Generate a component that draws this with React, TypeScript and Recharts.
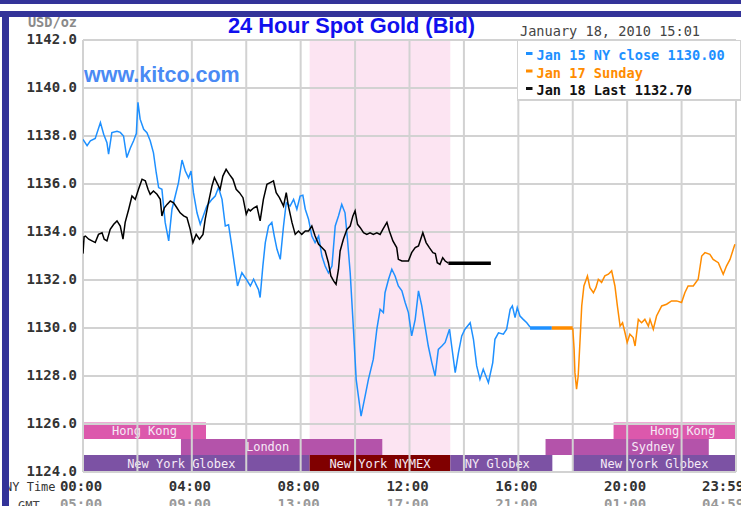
import React from "react";
import { LineChart, Line, XAxis, YAxis, CartesianGrid, ReferenceArea, Legend } from "recharts";

const MONO = "'DejaVu Sans Mono', monospace";
const SANS = "'Liberation Sans', Arial, sans-serif";

// price axis (USD/oz) and NY-time hours
const priceTicks = [1124, 1126, 1128, 1130, 1132, 1134, 1136, 1138, 1140, 1142];
const hourTicks = [0, 2, 4, 6, 8, 10, 12, 14, 16, 18, 20, 22, 24];
const nyLabels: Record<number, string> = { 0: "00:00", 4: "04:00", 8: "08:00", 12: "12:00", 16: "16:00", 20: "20:00", 24: "23:59" };
const gmtLabels: Record<number, string> = { 0: "05:00", 4: "09:00", 8: "13:00", 12: "17:00", 16: "21:00", 20: "01:00", 24: "04:59" };

// Jan 15 (blue) [hour, bid]
const jan15: [number, number][] = [
  [0, 1137.86], [0.15, 1137.6], [0.27, 1137.8], [0.45, 1137.9], [0.64, 1138.56], [0.76, 1138.07], [0.88, 1137.72],
  [0.94, 1137.24], [1.06, 1138.14], [1.25, 1138.2], [1.37, 1138.15], [1.49, 1138.0], [1.61, 1137.1], [1.74, 1137.5],
  [1.86, 1137.8], [1.96, 1138.1], [2.02, 1139.4], [2.1, 1138.7], [2.23, 1138.28], [2.35, 1138.14], [2.47, 1137.8],
  [2.59, 1137.3], [2.69, 1136.48], [2.78, 1135.85], [2.9, 1135.78], [3.02, 1134.4], [3.15, 1133.63], [3.27, 1134.95],
  [3.39, 1135.5], [3.51, 1136.06], [3.64, 1137.0], [3.76, 1136.54], [3.88, 1136.26], [3.97, 1136.54], [4.06, 1135.64],
  [4.19, 1134.8], [4.31, 1134.32], [4.43, 1134.7], [4.55, 1135.08], [4.74, 1135.36], [4.86, 1135.5], [4.98, 1135.85],
  [5.11, 1135.36], [5.23, 1134.25], [5.35, 1134.3], [5.47, 1133.4], [5.59, 1132.45], [5.68, 1131.75], [5.84, 1132.3],
  [6.02, 1132.0], [6.15, 1131.75], [6.27, 1132.03], [6.45, 1131.6], [6.51, 1131.27], [6.61, 1132.58], [6.7, 1133.56],
  [6.82, 1134.25], [6.94, 1134.4], [7.03, 1133.83], [7.13, 1133.28], [7.25, 1132.86], [7.37, 1134.25], [7.47, 1135.22],
  [7.61, 1135.08], [7.74, 1135.36], [7.86, 1134.95], [7.98, 1135.5], [8.08, 1135.53], [8.17, 1134.95], [8.29, 1134.53],
  [8.41, 1133.83], [8.53, 1133.56], [8.66, 1133.83], [8.78, 1133.0], [8.9, 1132.58], [9.02, 1132.3], [9.15, 1132.58],
  [9.27, 1134.25], [9.39, 1134.67], [9.51, 1135.15], [9.63, 1134.8], [9.72, 1133.7], [9.82, 1132.3], [9.94, 1129.95],
  [10.04, 1127.86], [10.12, 1127.17], [10.22, 1126.33], [10.37, 1127.17], [10.49, 1127.86], [10.67, 1128.7],
  [10.8, 1129.95], [10.92, 1130.78], [11.04, 1130.64], [11.1, 1131.47], [11.23, 1132.03], [11.35, 1132.45],
  [11.47, 1132.17], [11.59, 1131.75], [11.72, 1131.55], [11.84, 1131.06], [11.96, 1130.64], [12.08, 1129.67],
  [12.21, 1130.36], [12.33, 1131.55], [12.45, 1130.92], [12.57, 1130.08], [12.69, 1129.25], [12.82, 1128.56],
  [12.94, 1128.0], [13.06, 1129.11], [13.19, 1129.25], [13.31, 1129.4], [13.47, 1129.95], [13.55, 1129.25],
  [13.68, 1128.14], [13.8, 1128.97], [13.92, 1129.67], [14.04, 1129.95], [14.23, 1130.22], [14.35, 1129.53],
  [14.47, 1128.42], [14.59, 1127.86], [14.71, 1128.28], [14.9, 1127.72], [15.06, 1128.56], [15.14, 1129.53],
  [15.27, 1129.8], [15.45, 1129.74], [15.57, 1129.95], [15.7, 1130.78], [15.78, 1130.92], [15.88, 1130.43],
  [15.96, 1130.85], [16.06, 1130.5], [16.18, 1130.36], [16.31, 1130.22], [16.43, 1130.04],
];
const jan15Close: [number, number][] = [[16.43, 1130.0], [17.23, 1130.0]];

// Jan 17 Sunday (orange)
const jan17Open: [number, number][] = [[17.23, 1130.0], [18.0, 1130.0]];
const jan17: [number, number][] = [
  [18.0, 1130.0], [18.05, 1129.11], [18.08, 1128.14], [18.14, 1127.45], [18.2, 1128.0], [18.27, 1129.53], [18.33, 1130.92],
  [18.41, 1131.75], [18.54, 1132.17], [18.63, 1131.68], [18.76, 1131.47], [18.85, 1131.68], [18.94, 1132.03],
  [19.06, 1131.9], [19.18, 1132.17], [19.31, 1132.24], [19.43, 1132.38], [19.55, 1131.75], [19.64, 1130.92],
  [19.74, 1130.08], [19.83, 1130.22], [19.92, 1129.8], [20.0, 1129.4], [20.1, 1129.74], [20.22, 1129.6],
  [20.29, 1129.25], [20.41, 1130.36], [20.53, 1130.22], [20.65, 1130.36], [20.78, 1130.08], [20.84, 1130.36],
  [20.96, 1129.95], [21.08, 1130.5], [21.27, 1130.92], [21.45, 1130.99], [21.63, 1131.13], [21.82, 1131.13],
  [22.0, 1131.06], [22.12, 1131.47], [22.24, 1131.75], [22.43, 1131.75], [22.61, 1132.03], [22.74, 1133.0],
  [22.86, 1133.14], [23.04, 1133.07], [23.16, 1132.86], [23.35, 1132.72], [23.53, 1132.24], [23.65, 1132.58],
  [23.78, 1132.86], [23.9, 1133.28], [23.96, 1133.49],
];

// Jan 18 (black)
const jan18: [number, number][] = [
  [0, 1133.1], [0.04, 1133.8], [0.09, 1133.83], [0.21, 1133.7], [0.33, 1133.63], [0.45, 1133.56], [0.57, 1133.9],
  [0.7, 1133.97], [0.78, 1133.7], [0.88, 1133.63], [1.0, 1134.11], [1.13, 1134.32], [1.25, 1134.46], [1.37, 1134.25],
  [1.47, 1133.7], [1.55, 1134.4], [1.68, 1134.95], [1.8, 1135.5], [1.92, 1135.36], [2.04, 1135.78], [2.17, 1136.2],
  [2.29, 1136.13], [2.39, 1135.78], [2.47, 1135.57], [2.59, 1135.71], [2.72, 1135.57], [2.84, 1135.36], [2.9, 1134.67],
  [2.99, 1135.01], [3.09, 1135.15], [3.21, 1135.29], [3.33, 1135.22], [3.45, 1135.01], [3.57, 1134.8], [3.7, 1134.67],
  [3.82, 1134.6], [3.94, 1134.11], [4.04, 1133.56], [4.16, 1133.9], [4.28, 1133.7], [4.41, 1133.9], [4.49, 1134.53],
  [4.61, 1135.22], [4.74, 1135.92], [4.83, 1136.27], [4.92, 1136.06], [5.04, 1135.78], [5.14, 1136.33], [5.26, 1136.61],
  [5.38, 1136.4], [5.51, 1136.2], [5.63, 1135.78], [5.75, 1135.64], [5.88, 1135.43], [6.0, 1134.74], [6.08, 1134.95],
  [6.15, 1134.88], [6.27, 1135.0], [6.39, 1135.08], [6.51, 1134.46], [6.63, 1135.36], [6.76, 1135.99], [6.88, 1136.06],
  [7.0, 1136.13], [7.1, 1135.64], [7.22, 1135.43], [7.37, 1135.08], [7.47, 1135.64], [7.55, 1135.08], [7.68, 1134.4],
  [7.8, 1133.9], [7.92, 1134.04], [8.04, 1133.9], [8.17, 1134.04], [8.29, 1134.04], [8.41, 1134.25], [8.53, 1133.83],
  [8.66, 1133.49], [8.78, 1133.35], [8.9, 1133.21], [9.02, 1132.72], [9.11, 1132.17], [9.21, 1131.96], [9.3, 1131.82],
  [9.39, 1132.45], [9.45, 1133.21], [9.57, 1133.7], [9.7, 1134.11], [9.82, 1134.25], [9.92, 1134.67], [10.0, 1134.88],
  [10.09, 1134.32], [10.19, 1134.18], [10.31, 1133.97], [10.43, 1133.9], [10.55, 1133.97], [10.67, 1133.9],
  [10.8, 1133.97], [10.92, 1133.9], [11.02, 1134.11], [11.17, 1134.4], [11.26, 1134.04], [11.39, 1133.63],
  [11.53, 1133.35], [11.59, 1132.86], [11.72, 1132.79], [11.84, 1132.79], [11.96, 1132.79], [12.08, 1133.14],
  [12.21, 1133.35], [12.33, 1133.42], [12.49, 1133.97], [12.61, 1133.56], [12.73, 1133.35], [12.86, 1133.14],
  [12.95, 1133.1], [13.02, 1132.72], [13.12, 1132.65], [13.22, 1132.93], [13.31, 1132.79], [13.43, 1132.7],
];
const jan18Last: [number, number][] = [[13.43, 1132.7], [14.99, 1132.7]];

// NYMEX pit hours (pink background)
const nymexHours: [number, number] = [8.33, 13.5];

// trading sessions: name, from hour, to hour, row (0 top .. 2 bottom)
const sessions: { name: string; from: number; to: number; row: number }[] = [
  { name: "Hong Kong", from: 0, to: 4.52, row: 0 },
  { name: "Hong Kong", from: 19.5, to: 24, row: 0 },
  { name: "London", from: 3.6, to: 11.0, row: 1 },
  { name: "Sydney", from: 17.0, to: 23.0, row: 1 },
  { name: "New York Globex", from: 0, to: 8.33, row: 2 },
  { name: "New York NYMEX", from: 8.33, to: 13.5, row: 2 },
  { name: "NY Globex", from: 13.5, to: 17.25, row: 2 },
  { name: "New York Globex", from: 18.0, to: 24, row: 2 },
];

const legendItems = [
  { label: "Jan 15 NY close 1130.00", color: "#1e90ff" },
  { label: "Jan 17 Sunday", color: "#ff8c00" },
  { label: "Jan 18 Last 1132.70", color: "#111111" },
];

const sessionColors: Record<string, string> = {
  "Hong Kong": "#dc58ac",
  London: "#b453aa",
  Sydney: "#b453aa",
  "New York Globex": "#7c52a4",
  "NY Globex": "#7c52a4",
  "New York NYMEX": "#800000",
};
const labelShift = [0, 8, -14, 26, -15, 0, -4, 0];
const rowBounds: [number, number][] = [[1125.38, 1126.06], [1124.71, 1125.38], [1124.0, 1124.71]];

const pts = (arr: [number, number][]) => arr.map(([h, v]) => ({ h, v }));

function BandLabel(props: any) {
  const vb = props.viewBox;
  if (!vb) return null;
  return (
    <text x={vb.x + vb.width / 2 + (props.shift || 0)} y={vb.y + vb.height / 2 + 4.5} textAnchor="middle"
      fill="#f6eaf6" fontSize={12} fontFamily={MONO}>
      {props.text}
    </text>
  );
}

function PriceTick({ y, payload }: any) {
  return (
    <text x={77} y={y + 4} textAnchor="end" fill="#333" fontSize={14} fontWeight="bold" fontFamily={MONO}>
      {payload.value.toFixed(1)}
    </text>
  );
}

function TimeTick({ x, y, payload }: any) {
  const ny = nyLabels[payload.value];
  if (!ny) return null;
  const last = payload.value === 24;
  return (
    <g>
      <text x={last ? x - 34 : x - 2} y={y + 11} textAnchor={last ? "start" : "middle"} fill="#333" fontSize={14}
        fontWeight="bold" fontFamily={MONO}>{ny}</text>
      <text x={last ? x - 34 : x - 2} y={y + 29} textAnchor={last ? "start" : "middle"} fill="#999" fontSize={14}
        fontWeight="bold" fontFamily={MONO}>{gmtLabels[payload.value]}</text>
    </g>
  );
}

function LegendBox() {
  return (
    <svg width={224} height={61} style={{ display: "block" }}>
      <rect x={0} y={0} width={224} height={60} fill="#fff" stroke="#d2d2d2" strokeWidth={2} />
      {legendItems.map((it, i) => (
        <g key={it.label}>
          <rect x={9} y={12 + i * 17.5} width={6.5} height={3} fill={it.color} />
          <text x={19.5} y={20 + i * 17.5} fill={it.color} fontSize={13.6} fontWeight="bold" fontFamily={MONO}>{it.label}</text>
        </g>
      ))}
    </svg>
  );
}

export default function App() {
  return (
    <div style={{ position: "absolute", left: 0, top: 0, width: 741, height: 506, overflow: "hidden", background: "#fff", fontFamily: SANS }}>
      <LineChart width={741} height={506} margin={{ top: 40, right: 5, bottom: 0, left: 0 }}>
        <ReferenceArea x1={nymexHours[0]} x2={nymexHours[1]} y1={1124} y2={1142} fill="#fce4f2" fillOpacity={1} stroke="none" />
        {sessions.map((s, i) => (
          <ReferenceArea key={i} x1={s.from} x2={s.to} y1={rowBounds[s.row][0]} y2={rowBounds[s.row][1]}
            fill={sessionColors[s.name]} fillOpacity={1} stroke="none"
            label={<BandLabel text={s.name} shift={labelShift[i]} />} />
        ))}
        <CartesianGrid stroke="#d2d2d2" strokeWidth={2} zIndex={150} />
        <XAxis type="number" dataKey="h" domain={[0, 24]} ticks={hourTicks} allowDataOverflow height={34}
          axisLine={false} tickLine={false} tick={<TimeTick />} interval={0} />
        <YAxis type="number" domain={[1124, 1142]} ticks={priceTicks} allowDataOverflow width={83}
          axisLine={false} tickLine={false} tick={<PriceTick />} interval={0} />
        <Legend layout="vertical" align="center" verticalAlign="middle" content={() => <LegendBox />}
          wrapperStyle={{ top: 40, left: 517, width: 224, height: 61 }} />
        <Line data={pts(jan15)} dataKey="v" stroke="#1e90ff" strokeWidth={1.5} dot={false} isAnimationActive={false} />
        <Line data={pts(jan15Close)} dataKey="v" stroke="#1e90ff" strokeWidth={3.5} dot={false} isAnimationActive={false} />
        <Line data={pts(jan17Open)} dataKey="v" stroke="#ff8c00" strokeWidth={3.5} dot={false} isAnimationActive={false} />
        <Line data={pts(jan17)} dataKey="v" stroke="#ff8c00" strokeWidth={1.5} dot={false} isAnimationActive={false} />
        <Line data={pts(jan18)} dataKey="v" stroke="#000" strokeWidth={1.5} dot={false} isAnimationActive={false} />
        <Line data={pts(jan18Last)} dataKey="v" stroke="#000" strokeWidth={3.5} dot={false} isAnimationActive={false} />
      </LineChart>
      <svg width={741} height={506} style={{ position: "absolute", left: 0, top: 0, pointerEvents: "none" }}>
        <text x={77} y={27} textAnchor="end" fill="#8a8a8a" fontSize={13.6} fontWeight="bold" fontFamily={MONO}>USD/oz</text>
        <text x={351.5} y={33} textAnchor="middle" fill="#1010ee" fontSize={21.8} fontWeight="bold" fontFamily={SANS}>24 Hour Spot Gold (Bid)</text>
        <text x={520} y={36} fill="#444" fontSize={13.6} fontFamily={MONO}>January 18, 2010 15:01</text>
        <text x={84} y={82} fill="#4a8af4" fontSize={21.5} fontWeight="bold" fontFamily={SANS}>www.kitco.com</text>
        <text x={5} y={491} fill="#333" fontSize={12} fontFamily={MONO}>NY Time</text>
        <text x={18} y={510} fill="#444" fontSize={12} fontFamily={MONO}>GMT</text>
        <rect x={0} y={0} width={741} height={4} fill="#333399" />
        <rect x={0} y={11} width={741} height={6} fill="#333399" />
        <rect x={2} y={11} width={7} height={495} fill="#333399" />
      </svg>
    </div>
  );
}
